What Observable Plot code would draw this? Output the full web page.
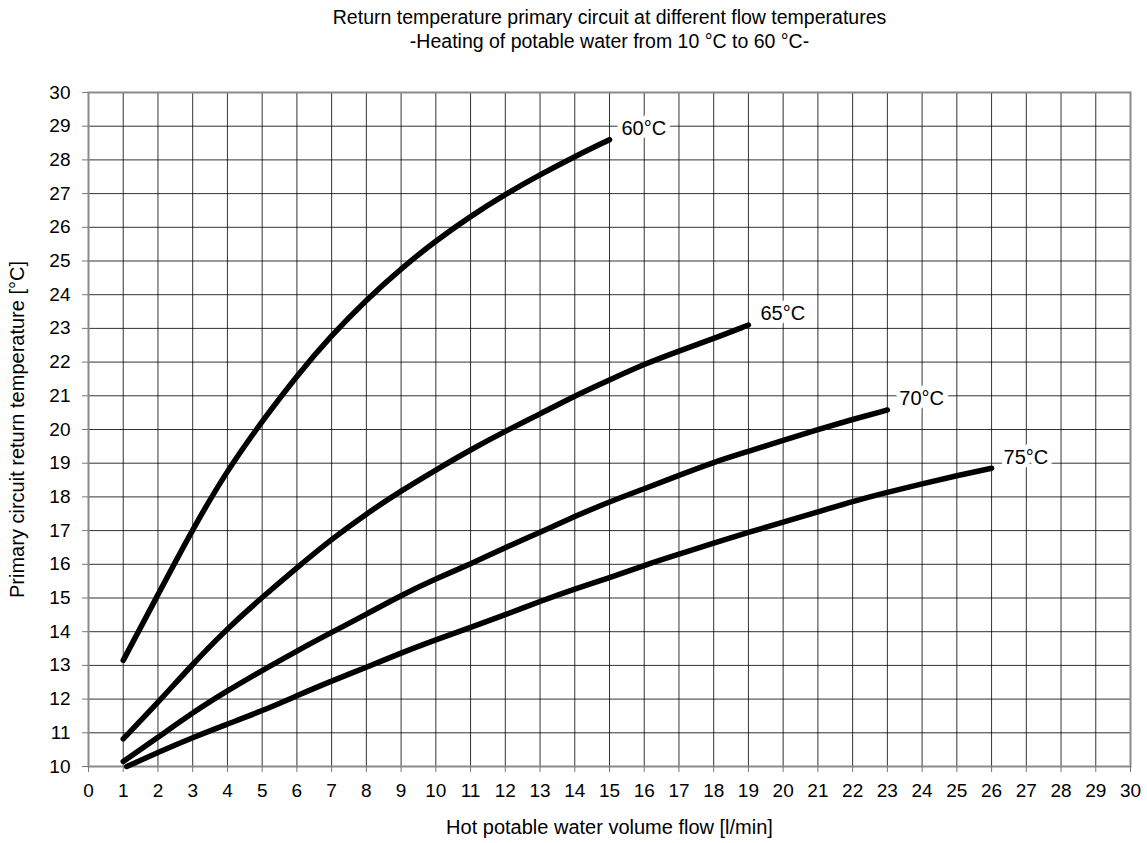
<!DOCTYPE html>
<html>
<head>
<meta charset="utf-8">
<script src="https://cdn.jsdelivr.net/npm/d3@7"></script>
<script src="https://cdn.jsdelivr.net/npm/@observablehq/plot@0.6"></script>
<style>
  body { margin: 0; background: #fff; }
  svg { display: block; }
</style>
</head>
<body>
<div id="chart"></div>
<script>
// ---- Data ----
const titleLines = [
  "Return temperature primary circuit at different flow temperatures",
  "-Heating of potable water from 10 °C to 60 °C-"
];
const xLabel = "Hot potable water volume flow [l/min]";
const yLabel = "Primary circuit return temperature [°C]";

const xTicks = [0,1,2,3,4,5,6,7,8,9,10,11,12,13,14,15,16,17,18,19,20,21,22,23,24,25,26,27,28,29,30];
const yTicks = [10,11,12,13,14,15,16,17,18,19,20,21,22,23,24,25,26,27,28,29,30];

const seriesNames = ["60°C", "65°C", "70°C", "75°C"];

const flow60 = [1,2,3,4,5,6,7,8,9,10,11,12,13,14,15];
const temp60 = [13.15,15.1,17.05,18.8,20.25,21.6,22.8,23.85,24.78,25.6,26.33,26.98,27.56,28.1,28.6];

const flow65 = [1,2,3,4,5,6,7,8,9,10,11,12,13,14,15,16,17,18,19];
const temp65 = [10.82,11.9,13.04,14.1,15.02,15.9,16.75,17.5,18.18,18.8,19.4,19.95,20.46,21.0,21.47,21.94,22.33,22.7,23.1];

const flow70 = [1,2,3,4,5,6,7,8,9,10,11,12,13,14,15,16,17,18,19,20,21,22,23];
const temp70 = [10.15,10.86,11.6,12.25,12.85,13.43,13.98,14.52,15.08,15.57,16.01,16.5,16.95,17.42,17.86,18.24,18.64,19.03,19.35,19.68,20.0,20.3,20.58];

const flow75 = [1.1,2,3,4,5,6,7,8,9,10,11,12,13,14,15,16,17,18,19,20,21,22,23,24,25,26];
const temp75 = [10.0,10.42,10.86,11.26,11.65,12.1,12.54,12.94,13.37,13.76,14.13,14.5,14.9,15.27,15.6,15.97,16.3,16.63,16.95,17.25,17.55,17.87,18.14,18.39,18.63,18.85];

// ---- Build table ----
const flows = [flow60, flow65, flow70, flow75];
const temps = [temp60, temp65, temp70, temp75];
const data = [];
const ends = [];
seriesNames.forEach((name, i) => {
  flows[i].forEach((f, j) => data.push({series: name, flow: f, temp: temps[i][j]}));
  const last = flows[i].length - 1;
  ends.push({series: name, flow: flows[i][last], temp: temps[i][last]});
});

const font = "'Liberation Sans', Arial, Helvetica, sans-serif";

const chart = Plot.plot({
  width: 1147,
  height: 843,
  marginLeft: 88,
  marginRight: 17,
  marginTop: 92,
  marginBottom: 77,
  style: {fontFamily: font, fontSize: "19px", color: "#000", background: "#fff"},
  x: {domain: [0, 30]},
  y: {domain: [10, 30]},
  marks: [
    Plot.gridX(xTicks, {stroke: "#000", strokeOpacity: 0.8, strokeWidth: 1}),
    Plot.gridY(yTicks, {stroke: "#000", strokeOpacity: 0.8, strokeWidth: 1}),
    Plot.frame({stroke: "#8a8a8a", strokeWidth: 2}),
    Plot.axisX(xTicks, {tickSize: 6, tickPadding: 11, stroke: "#777", fill: "#000", label: null, fontSize: 19}),
    Plot.axisY(yTicks, {tickSize: 6, tickPadding: 12, stroke: "#777", fill: "#000", label: null, fontSize: 19}),
    Plot.line(data, {
      x: "flow", y: "temp", z: "series",
      stroke: "#000", strokeWidth: 5.5, curve: "basis",
      strokeLinecap: "round", strokeLinejoin: "round"
    }),
    Plot.text(ends, {
      x: "flow", y: "temp", text: "series",
      dx: 12, dy: -11, textAnchor: "start", lineAnchor: "middle",
      fontSize: 20, fill: "#000", stroke: "#fff", strokeWidth: 10, strokeLinejoin: "round"
    }),
    Plot.text([titleLines[0]], {frameAnchor: "top", dy: -69, lineAnchor: "bottom", fontSize: 19.5, fill: "#000"}),
    Plot.text([titleLines[1]], {frameAnchor: "top", dy: -45, lineAnchor: "bottom", fontSize: 19.5, fill: "#000"}),
    Plot.text([xLabel], {frameAnchor: "bottom", dy: 67, lineAnchor: "bottom", fontSize: 20, fill: "#000"}),
    Plot.text([yLabel], {frameAnchor: "left", dx: -71, rotate: -90, textAnchor: "middle", lineAnchor: "middle", fontSize: 20, fill: "#000"})
  ]
});

document.getElementById("chart").appendChild(chart);
</script>
</body>
</html>
